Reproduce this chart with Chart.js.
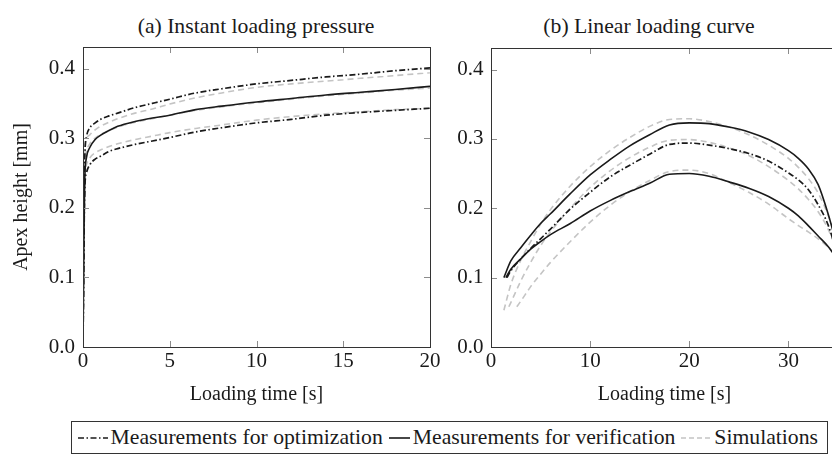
<!DOCTYPE html>
<html>
<head>
<meta charset="utf-8">
<title>Apex height vs loading time</title>
<script src="https://cdn.jsdelivr.net/npm/chart.js"></script>
<style>
    html, body { margin: 0; padding: 0; width: 832px; height: 456px; overflow: hidden; background: #fff; }
    body { position: relative; font-family: "Liberation Serif", "Times New Roman", Tinos, "DejaVu Serif", serif; color: #1a1a1a; }
    .panel-title { position: absolute; top: 13px; font-size: 21.7px; line-height: 26px; white-space: nowrap; transform: translateX(-50%); }
    #wrapA { position: absolute; left: 0; top: 0; width: 445px; height: 407px; }
    #wrapB { position: absolute; left: 440px; top: 0; width: 400px; height: 407px; }
    #legend { position: absolute; right: 4px; top: 421px; height: 33px; box-sizing: border-box; border: 1px solid #333;
              display: flex; align-items: center; padding: 0 9px 0 6px; font-size: 21.7px; white-space: nowrap; }
    #legend .item { display: flex; align-items: center; }
    #legend .item + .item { margin-left: 6px; }
    #legend svg { margin-right: 3px; }
</style>
</head>
<body>
    <div class="panel-title" style="left:256px">(a) Instant loading pressure</div>
    <div class="panel-title" style="left:649px">(b) Linear loading curve</div>

    <div id="wrapA"><canvas id="chartA"></canvas></div>
    <div id="wrapB"><canvas id="chartB"></canvas></div>

    <div id="legend">
        <div class="item"><svg width="30" height="10"><line x1="0" y1="5" x2="30" y2="5" stroke="#1a1a1a" stroke-width="1.6" stroke-dasharray="6 2.5 1.5 2.5"/></svg>Measurements for optimization</div>
        <div class="item"><svg width="21" height="10"><line x1="0" y1="5" x2="21" y2="5" stroke="#1a1a1a" stroke-width="1.6"/></svg>Measurements for verification</div>
        <div class="item"><svg width="30" height="10"><line x1="0" y1="5" x2="30" y2="5" stroke="#c4c4c4" stroke-width="1.6" stroke-dasharray="5 3"/></svg>Simulations</div>
    </div>

    <script>
        // (a) instant loading pressure, apex height [mm] over loading time [s]
        const timeA    = [0, 0.05, 0.1, 0.2, 0.4, 0.7, 1, 1.5, 2, 3, 4, 5, 6.5, 8, 10, 12, 14, 16, 18, 20];
        const optHighA = [0, 0.16, 0.27, 0.302, 0.315, 0.322, 0.327, 0.332, 0.336, 0.344, 0.350, 0.356, 0.365, 0.371, 0.378, 0.383, 0.388, 0.392, 0.397, 0.401];
        const optLowA  = [0, 0.14, 0.225, 0.25, 0.262, 0.270, 0.274, 0.281, 0.285, 0.291, 0.296, 0.301, 0.309, 0.315, 0.322, 0.327, 0.333, 0.337, 0.340, 0.343];
        const verA     = [0, 0.15, 0.24, 0.272, 0.287, 0.298, 0.304, 0.311, 0.317, 0.324, 0.329, 0.333, 0.341, 0.346, 0.352, 0.357, 0.362, 0.366, 0.370, 0.3745];
        const simHighA = [0, 0.16, 0.27, 0.298, 0.305, 0.312, 0.317, 0.323, 0.328, 0.336, 0.342, 0.349, 0.358, 0.365, 0.373, 0.378, 0.382, 0.386, 0.390, 0.394];
        const simMidA  = [0, 0.15, 0.25, 0.280, 0.292, 0.300, 0.305, 0.311, 0.316, 0.323, 0.328, 0.333, 0.340, 0.345, 0.351, 0.356, 0.361, 0.365, 0.369, 0.372];
        const simLowA  = [0, 0.15, 0.24, 0.262, 0.272, 0.279, 0.283, 0.288, 0.292, 0.298, 0.303, 0.308, 0.314, 0.319, 0.326, 0.331, 0.335, 0.338, 0.341, 0.343];

        // (b) linear loading curve; each curve starts at its own first point
        const timeB     = [2, 3, 4, 5, 6, 8, 10, 12, 14, 16, 18, 20, 22, 24, 26, 28, 30, 31, 32, 33, 34, 35];
        const startTimeB  = { verHigh: 1.3, opt: 1.6, verLow: 1.5, simHigh: 1.3, simMid: 1.8, simLow: 2.6 };
        const startValueB = { verHigh: 0.100, opt: 0.100, verLow: 0.100, simHigh: 0.053, simMid: 0.058, simLow: 0.058 };
        const verHighB = [0.124, 0.143, 0.161, 0.178, 0.192, 0.221, 0.248, 0.270, 0.290, 0.306, 0.320, 0.323, 0.322, 0.317, 0.310, 0.299, 0.283, 0.272, 0.257, 0.234, 0.192, 0.14];
        const optB     = [0.110, 0.127, 0.142, 0.156, 0.170, 0.199, 0.223, 0.245, 0.262, 0.278, 0.292, 0.294, 0.291, 0.286, 0.279, 0.268, 0.251, 0.241, 0.227, 0.205, 0.176, 0.13];
        const verLowB  = [0.112, 0.127, 0.141, 0.152, 0.162, 0.178, 0.196, 0.211, 0.224, 0.236, 0.249, 0.250, 0.246, 0.238, 0.229, 0.217, 0.200, 0.189, 0.175, 0.160, 0.145, 0.125];
        const simHighB = [0.090, 0.125, 0.152, 0.177, 0.198, 0.232, 0.260, 0.283, 0.302, 0.318, 0.328, 0.329, 0.325, 0.317, 0.306, 0.291, 0.272, 0.259, 0.243, 0.222, 0.190, 0.15];
        const simMidB  = [0.064, 0.095, 0.122, 0.146, 0.166, 0.200, 0.230, 0.254, 0.273, 0.288, 0.298, 0.299, 0.295, 0.287, 0.276, 0.260, 0.240, 0.228, 0.213, 0.195, 0.170, 0.135];
        const simLowB  = [null, 0.066, 0.087, 0.105, 0.122, 0.152, 0.180, 0.204, 0.224, 0.240, 0.253, 0.255, 0.250, 0.237, 0.223, 0.206, 0.185, 0.175, 0.166, 0.156, 0.144, 0.13];

        const yTicks = [0, 0.1, 0.2, 0.3, 0.4];
        const xTicksA = [0, 5, 10, 15, 20];
        const xTicksB = [0, 10, 20, 30];

        Chart.defaults.font.family = '"Liberation Serif", "Times New Roman", Tinos, "DejaVu Serif", serif';
        Chart.defaults.color = '#1a1a1a';

        function pts(xs, ys) {
            return xs.map((x, i) => ({ x: x, y: ys[i] })).filter(p => p.y !== null);
        }
        function ptsB(key, ys) {
            return pts([startTimeB[key]].concat(timeB), [startValueB[key]].concat(ys));
        }

        const OPT = { borderColor: '#1a1a1a', borderWidth: 1.7, borderDash: [6, 2.5, 1.5, 2.5] };
        const VER = { borderColor: '#1a1a1a', borderWidth: 1.6 };
        const SIM = { borderColor: '#c4c4c4', borderWidth: 1.6, borderDash: [6, 4] };

        function line(data, style) {
            return Object.assign({ data: data, pointRadius: 0, fill: false, cubicInterpolationMode: 'monotone' }, style);
        }

        // frame round the plot area and pgfplots style ticks pointing inwards
        const frameTicks = {
            id: 'frameTicks',
            afterDraw(chart) {
                const { ctx, chartArea: a, scales } = chart;
                ctx.save();
                ctx.strokeStyle = '#8c8c8c';
                ctx.lineWidth = 1;
                ctx.beginPath();
                scales.x.ticks.forEach(t => {
                    const px = Math.round(scales.x.getPixelForValue(t.value)) + 0.5;
                    ctx.moveTo(px, a.bottom); ctx.lineTo(px, a.bottom - 6);
                    ctx.moveTo(px, a.top); ctx.lineTo(px, a.top + 6);
                });
                scales.y.ticks.forEach(t => {
                    const py = Math.round(scales.y.getPixelForValue(t.value)) + 0.5;
                    ctx.moveTo(a.left, py); ctx.lineTo(a.left + 6, py);
                    ctx.moveTo(a.right, py); ctx.lineTo(a.right - 6, py);
                });
                ctx.stroke();
                ctx.strokeStyle = '#333';
                ctx.strokeRect(Math.round(a.left) + 0.5, Math.round(a.top) + 0.5,
                               Math.round(a.right - a.left), Math.round(a.bottom - a.top));
                ctx.restore();
            }
        };

        function options(xMax, xTickList, yWidth, yPad, padTop, padRight, yTitle) {
            return {
                responsive: true,
                maintainAspectRatio: false,
                animation: false,
                layout: { padding: { top: padTop, right: padRight, left: 0, bottom: 0 } },
                plugins: { legend: { display: false }, tooltip: { enabled: false } },
                scales: {
                    x: {
                        type: 'linear', min: 0, max: xMax,
                        grid: { display: false, drawTicks: false },
                        border: { display: false },
                        afterBuildTicks: s => { s.ticks = xTickList.map(v => ({ value: v })); },
                        afterFit: s => { s.height = 60; },
                        ticks: { padding: 2, font: { size: 21 }, maxRotation: 0, callback: v => String(v) },
                        title: { display: true, text: 'Loading time [s]', font: { size: 20 }, padding: { top: 0, bottom: 0 } }
                    },
                    y: {
                        type: 'linear', min: 0, max: 0.431,
                        grid: { display: false, drawTicks: false },
                        border: { display: false },
                        afterBuildTicks: s => { s.ticks = yTicks.map(v => ({ value: v })); },
                        afterFit: s => { s.width = yWidth; },
                        ticks: { padding: yPad, font: { size: 21 }, callback: v => Number(v).toFixed(1) },
                        title: { display: !!yTitle, text: yTitle || '', font: { size: 20 }, padding: { top: 10, bottom: 0 } }
                    }
                }
            };
        }

        new Chart(document.getElementById('chartA'), {
            type: 'line',
            data: {
                datasets: [
                    line(pts(timeA, optHighA), OPT),
                    line(pts(timeA, optLowA), OPT),
                    line(pts(timeA, verA), VER),
                    line(pts(timeA, simHighA), SIM),
                    line(pts(timeA, simMidA), SIM),
                    line(pts(timeA, simLowA), SIM)
                ]
            },
            options: options(20, xTicksA, 83, 8, 47, 15, 'Apex height [mm]'),
            plugins: [frameTicks]
        });

        new Chart(document.getElementById('chartB'), {
            type: 'line',
            data: {
                datasets: [
                    line(ptsB('verHigh', verHighB), VER),
                    line(ptsB('opt', optB), OPT),
                    line(ptsB('verLow', verLowB), VER),
                    line(ptsB('simHigh', simHighB), SIM),
                    line(ptsB('simMid', simMidB), SIM),
                    line(ptsB('simLow', simLowB), SIM)
                ]
            },
            options: options(35, xTicksB, 51, 7.5, 48, 2, ''),
            plugins: [frameTicks]
        });
    </script>
</body>
</html>
